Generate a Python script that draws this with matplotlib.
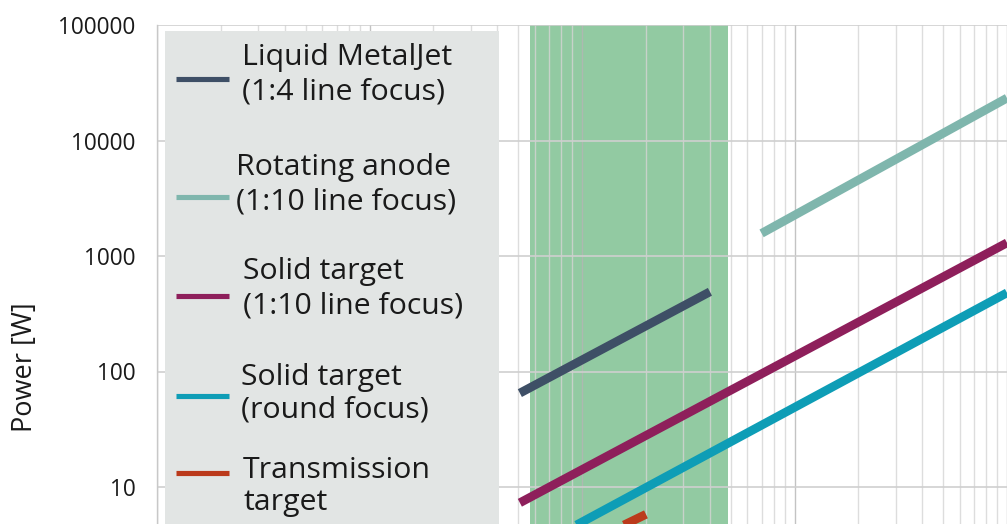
import matplotlib
matplotlib.use("Agg")
import matplotlib.pyplot as plt
from matplotlib.patches import Rectangle
from matplotlib.lines import Line2D
from matplotlib.ticker import LogLocator, NullFormatter, FixedLocator

plt.rcParams['font.family'] = ['Open Sans', 'DejaVu Sans']

# ---- data (spot size [um] vs power [W]) ----
series_names = [
    "Liquid MetalJet\n(1:4 line focus)",
    "Rotating anode\n(1:10 line focus)",
    "Solid target\n(1:10 line focus)",
    "Solid target\n(round focus)",
    "Transmission\ntarget",
]
series_colors = ["#3e4f66", "#7fb6ad", "#8e1f5b", "#0e9db6", "#bb3a1b"]

metaljet_x = [5.1, 40]
metaljet_y = [65, 490]
rotating_x = [70, 1000]
rotating_y = [1570, 23300]
solid_line_x = [5.1, 1000]
solid_line_y = [7.3, 1300]
solid_round_x = [5, 1000]
solid_round_y = [2.5, 480]
transmission_x = [1, 20]
transmission_y = [0.4, 5.8]

band_x = [5.7, 48.5]

y_ticks = [10, 100, 1000, 10000, 100000]
y_ticklabels = ["10", "100", "1000", "10000", "100000"]

xs = [metaljet_x, rotating_x, solid_line_x, solid_round_x, transmission_x]
ys = [metaljet_y, rotating_y, solid_line_y, solid_round_y, transmission_y]

# ---- figure ----
W, H = 1007, 524
fig = plt.figure(figsize=(W / 100, H / 100), dpi=100)

def fx(x):
    return x / W

def fy(y):
    return 1 - y / H

ax_left, ax_right = 157, 1007
ax_top = 25
dec_px = 115.5
ax_bottom = ax_top + 5 * dec_px
ax = fig.add_axes([fx(ax_left), fy(ax_bottom), (ax_right - ax_left) / W, (ax_bottom - ax_top) / H])
ax.set_xscale('log')
ax.set_yscale('log')
ax.set_xlim(0.1, 1000)
ax.set_ylim(1, 100000)

ax.axvspan(band_x[0], band_x[1], color="#92caa2", zorder=1, lw=0)

for x, y, c in zip(xs, ys, series_colors):
    ax.plot(x, y, color=c, lw=6.3, solid_capstyle='butt', zorder=3)

ax.set_axisbelow('line')
ax.xaxis.set_major_locator(LogLocator(base=10, numticks=20))
ax.xaxis.set_minor_locator(LogLocator(base=10, subs=range(2, 10), numticks=40))
ax.xaxis.set_minor_formatter(NullFormatter())
ax.grid(True, which='major', axis='x', color='#b5b5b5', lw=1.0, alpha=0.8, zorder=2)
ax.grid(True, which='minor', axis='x', color='#d5d5d5', lw=1.0, alpha=0.8, zorder=2)
ax.yaxis.set_major_locator(FixedLocator(y_ticks))
ax.yaxis.set_minor_locator(FixedLocator([]))
ax.set_yticklabels(y_ticklabels)
ax.grid(True, which='major', axis='y', color='#cfcfcf', lw=1.2, zorder=2)

ax.tick_params(axis='both', which='both', length=0)
ax.tick_params(axis='y', labelsize=16.3, pad=15.5, labelcolor='#1a1a1a')
ax.tick_params(axis='x', labelbottom=False)
for s in ['top', 'right', 'bottom']:
    ax.spines[s].set_visible(False)
ax.spines['left'].set_color('#c8c8c8')
ax.spines['left'].set_linewidth(1.0)

ax.set_ylabel("Power [W]", fontsize=19.5, color='#1a1a1a')
ax.yaxis.set_label_coords((39 - ax_left) / (ax_right - ax_left), (ax_bottom - 367.5) / (ax_bottom - ax_top))

# ---- manual legend box ----
fig.add_artist(Rectangle((fx(165), fy(640)), (499 - 165) / W, (640 - 31) / H,
                         transform=fig.transFigure, facecolor="#e2e5e4", edgecolor='none', zorder=5))
handle_y = [79, 197, 296, 396, 473]
text_x = [242, 236, 243, 241, 243]
baselines = [(65, 100), (175, 209), (279, 313), (385, 418), (478, 510)]
for name, c, hy, tx, bl in zip(series_names, series_colors, handle_y, text_x, baselines):
    fig.add_artist(Line2D([fx(176), fx(229)], [fy(hy), fy(hy)], transform=fig.transFigure,
                          color=c, lw=3.7, solid_capstyle='butt', zorder=6))
    for line, b in zip(name.split("\n"), bl):
        fig.text(fx(tx), fy(b), line, fontsize=21.8, color='#1a1a1a', ha='left', va='baseline', zorder=6)

fig.savefig("out.png", dpi=100)
